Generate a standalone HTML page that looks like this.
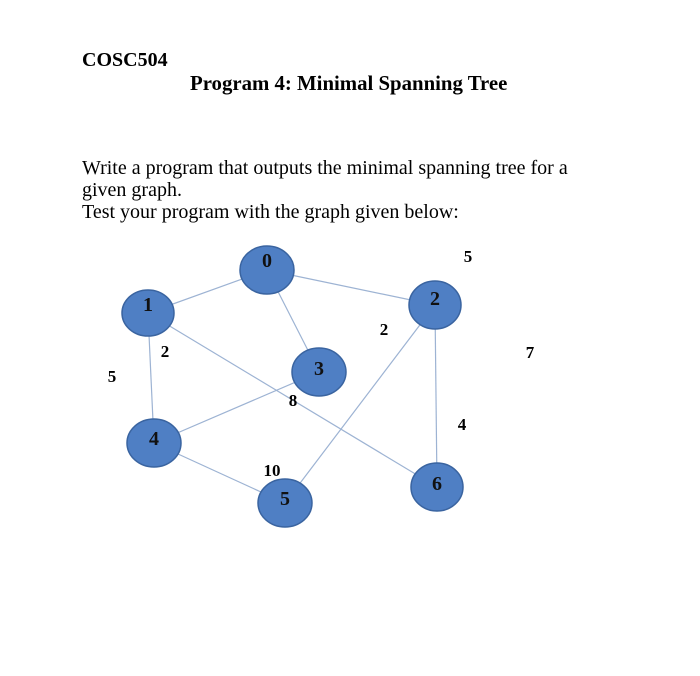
<!DOCTYPE html>
<html><head><meta charset="utf-8"><style>
html,body{margin:0;padding:0;background:#fff;}
body{width:700px;height:676px;position:relative;overflow:hidden;font-family:"Liberation Serif",serif;color:#000;}
.t{position:absolute;white-space:nowrap;}
</style></head><body>
<div class="t" style="left:82px;top:49px;font-size:20px;font-weight:bold;">COSC504</div>
<div class="t" style="left:190px;top:72px;font-size:20.8px;font-weight:bold;">Program 4: Minimal Spanning Tree</div>
<div class="t" style="left:82px;top:157px;font-size:20px;line-height:22px;">Write a program that outputs the minimal spanning tree for a<br>given graph.<br>Test your program with the graph given below:</div>
<svg width="700" height="676" style="position:absolute;left:0;top:0" font-family="Liberation Serif, serif" font-weight="bold">
<g stroke="#9db3d3" stroke-width="1.2">
<line x1="267" y1="270" x2="148" y2="313"/>
<line x1="267" y1="270" x2="435" y2="305"/>
<line x1="267" y1="270" x2="319" y2="372"/>
<line x1="148" y1="313" x2="154" y2="443"/>
<line x1="148" y1="313" x2="437" y2="487"/>
<line x1="319" y1="372" x2="154" y2="443"/>
<line x1="154" y1="443" x2="285" y2="503"/>
<line x1="435" y1="305" x2="285" y2="503"/>
<line x1="435" y1="305" x2="437" y2="487"/>
</g>
<g fill="#4f7fc4" stroke="#3a64a0" stroke-width="1.5">
<ellipse cx="267" cy="270" rx="27" ry="24"/>
<ellipse cx="148" cy="313" rx="26" ry="23"/>
<ellipse cx="435" cy="305" rx="26" ry="24"/>
<ellipse cx="319" cy="372" rx="27" ry="24"/>
<ellipse cx="154" cy="443" rx="27" ry="24"/>
<ellipse cx="285" cy="503" rx="27" ry="24"/>
<ellipse cx="437" cy="487" rx="26" ry="24"/>
</g>
<g font-size="20" text-anchor="middle" fill="#111">
<text x="267" y="267">0</text>
<text x="148" y="311">1</text>
<text x="435" y="305">2</text>
<text x="319" y="375">3</text>
<text x="154" y="445">4</text>
<text x="285" y="505">5</text>
<text x="437" y="490">6</text>
</g>
<g font-size="17" text-anchor="middle" fill="#000">
<text x="468" y="262">5</text>
<text x="384" y="335">2</text>
<text x="530" y="358">7</text>
<text x="165" y="357">2</text>
<text x="112" y="382">5</text>
<text x="293" y="406">8</text>
<text x="462" y="430">4</text>
<text x="272" y="476">10</text>
</g>
</svg>
</body></html>
